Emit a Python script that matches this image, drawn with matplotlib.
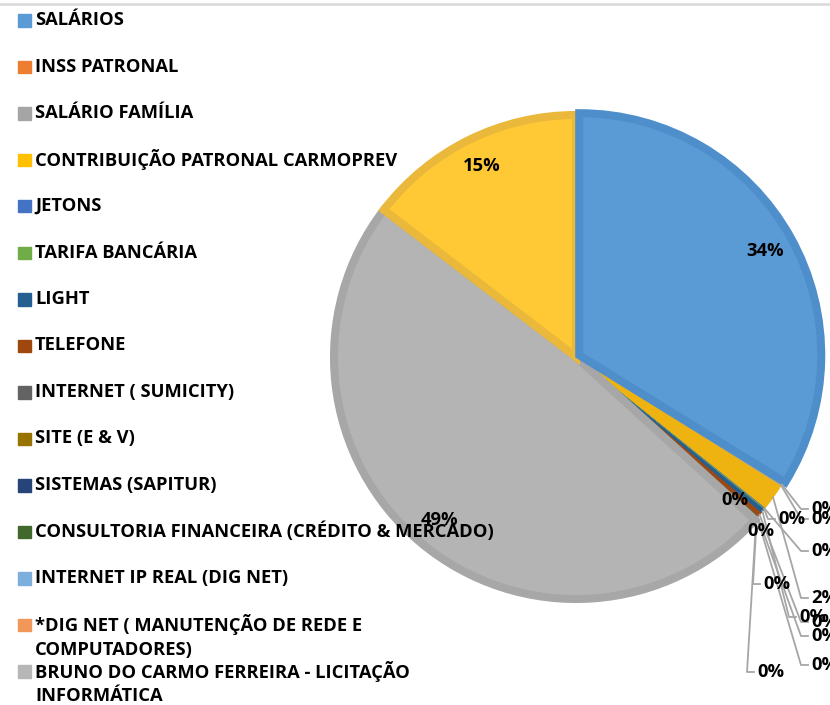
import matplotlib.pyplot as plt
import numpy as np
from matplotlib.patches import Rectangle
from matplotlib.lines import Line2D

categories = [
    "SALÁRIOS",
    "INSS PATRONAL",
    "SALÁRIO FAMÍLIA",
    "CONTRIBUIÇÃO PATRONAL CARMOPREV",
    "JETONS",
    "TARIFA BANCÁRIA",
    "LIGHT",
    "TELEFONE",
    "INTERNET ( SUMICITY)",
    "SITE (E & V)",
    "SISTEMAS (SAPITUR)",
    "CONSULTORIA FINANCEIRA (CRÉDITO & MERCADO)",
    "INTERNET IP REAL (DIG NET)",
    "*DIG NET ( MANUTENÇÃO DE REDE E\nCOMPUTADORES)",
    "BRUNO DO CARMO FERREIRA - LICITAÇÃO\nINFORMÁTICA",
    "",  # 16th entry is cut off in the source image
]
values = [33.8, 0.05, 0.1, 1.8, 0.05, 0.05, 0.3, 0.3,
          0.05, 0.05, 0.05, 0.05, 0.05, 0.05, 48.65, 14.6]

colors = ["#5B9BD5", "#ED7D31", "#A5A5A5", "#EEB211", "#4472C4", "#70AD47",
          "#255E91", "#9E480E", "#636363", "#997300", "#264478", "#43682B",
          "#7CAFDD", "#F1975A", "#B4B4B4", "#FFC936"]
legend_colors = ["#5B9BD5", "#ED7D31", "#A5A5A5", "#FFC000", "#4472C4", "#70AD47",
                 "#255E91", "#9E480E", "#636363", "#997300", "#264478", "#43682B",
                 "#7CAFDD", "#F1975A", "#B7B7B7", "#FFCD33"]
edge_colors = {0: "#4E8ECB", 14: "#A7A7A7", 15: "#EAB83A"}

W, H = 830, 705
cx, cy, R = 576, 357, 246  # pie centre / outer radius in pixels

plt.rcParams['font.family'] = ['Open Sans', 'DejaVu Sans']

fig = plt.figure(figsize=(W / 100, H / 100), dpi=100)

# size the font so the longest single legend line is ~362 px wide, as in the source
probe = fig.text(0, 0, categories[3], fontsize=10, fontweight='bold')
fig.canvas.draw()
fs = 10 * 362 / probe.get_window_extent().width
probe.remove()

ax = fig.add_axes([(cx - R) / W, (H - cy - R) / H, 2 * R / W, 2 * R / H])

explode = [0.015] + [0] * (len(values) - 1)
rad = 242 / 246

wedges, texts, autotexts = ax.pie(
    values, colors=colors, startangle=90, counterclock=False,
    explode=explode, radius=rad, autopct='%.0f%%', pctdistance=0.88,
    textprops=dict(fontsize=fs, fontweight='bold', color='black'))
ax.set_xlim(-1, 1)
ax.set_ylim(-1, 1)
ax.set_aspect('equal')
ax.axis('off')

for i, w in enumerate(wedges):
    if i in edge_colors:
        w.set_edgecolor(edge_colors[i])
        w.set_linewidth(5.8)
        w.set_joinstyle('miter')
    else:
        w.set_edgecolor(colors[i])
        w.set_linewidth(0.6)
wedges[0].set_zorder(3)

# small slice labels (pixel positions: left x, centre y)
small_pos = {1: (811, 509), 2: (811, 519), 3: (811, 598), 4: (811, 551),
             5: (778, 519), 6: (799, 617), 7: (811, 622), 8: (811, 636),
             9: (811, 665), 10: (763, 584), 11: (757, 672), 12: (747, 531),
             13: (721, 500)}
no_line = {12, 13}


def px2d(px, py):
    return (px - cx) / R, (cy - py) / R


for i, t in enumerate(autotexts):
    if i not in small_pos:
        continue
    lx, ly = px2d(*small_pos[i])
    t.set_position((lx, ly))
    t.set_ha('left')
    t.set_va('center')
    t.set_zorder(6)
    if i in no_line:
        continue
    w = wedges[i]
    th = np.deg2rad((w.theta1 + w.theta2) / 2)
    x0, y0 = rad * np.cos(th), rad * np.sin(th)
    ax.plot([x0, lx - 10 / R, lx - 3 / R], [y0, ly, ly], color="#A6A6A6",
            lw=1.3, clip_on=False, zorder=5)

# legend drawn row by row
row0, step = 20, 46.5
for i, (name, c) in enumerate(zip(categories, legend_colors)):
    y = row0 + i * step
    fig.patches.append(Rectangle((18 / W, 1 - (y + 6.5) / H), 12.5 / W, 12.5 / H,
                                 transform=fig.transFigure, color=c))
    fig.text(35 / W, 1 - y / H, name.split("\n")[0], ha='left', va='center',
             fontsize=fs, fontweight='bold')
    if "\n" in name:
        fig.text(35 / W, 1 - (y + 25) / H, name.split("\n")[1], ha='left',
                 va='center', fontsize=fs, fontweight='bold')

fig.add_artist(Line2D([0, 1], [1 - 4 / H, 1 - 4 / H], color="#D9D9D9", lw=1.8,
                      transform=fig.transFigure))

fig.savefig("out.png", dpi=100)
